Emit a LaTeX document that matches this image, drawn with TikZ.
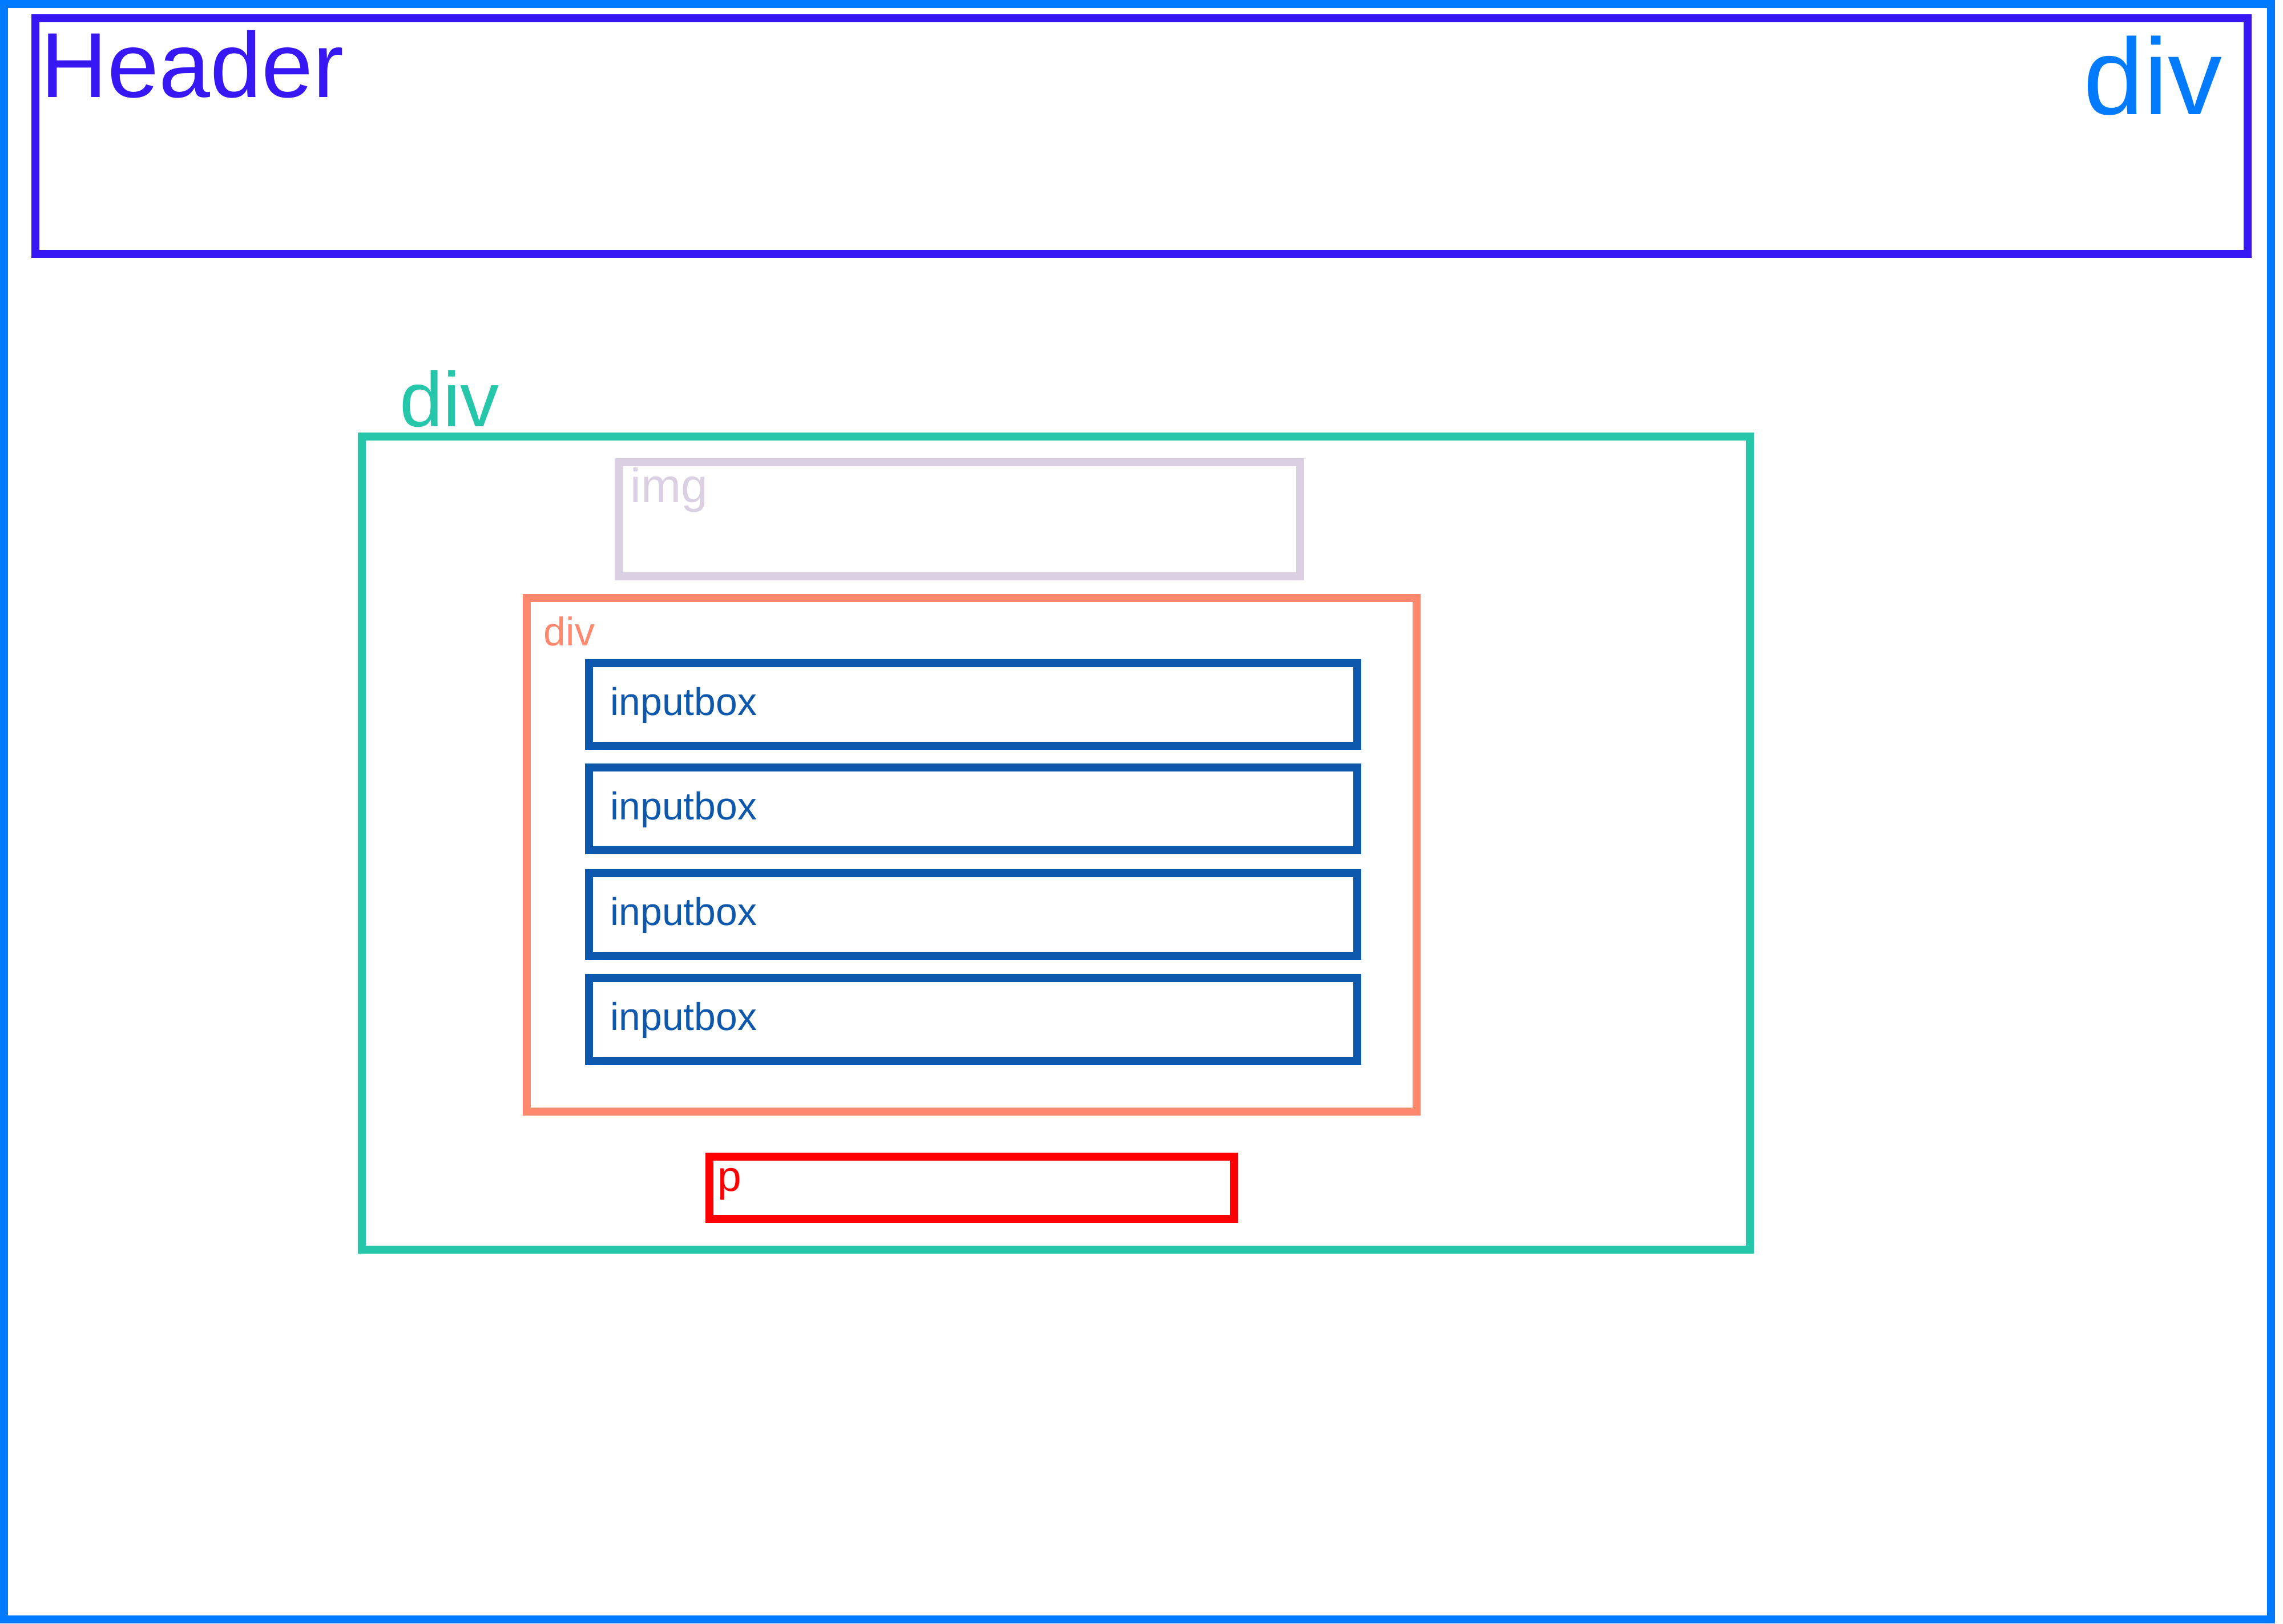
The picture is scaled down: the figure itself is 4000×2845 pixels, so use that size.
\documentclass[tikz,border=0pt]{standalone}
\usepackage{fontspec}
\setmainfont{Liberation Sans}
\definecolor{pageblue}{RGB}{0, 123, 255}
\definecolor{headindigo}{RGB}{55, 24, 245}
\definecolor{wrapgreen}{RGB}{38, 198, 170}
\definecolor{imglilac}{RGB}{219, 207, 227}
\definecolor{formcoral}{RGB}{255, 136, 110}
\definecolor{inputnavy}{RGB}{13, 87, 172}
\definecolor{msgred}{RGB}{255, 0, 0}
\usetikzlibrary{positioning}

\tikzset{
  boxline/.style={line width=3.98pt},
  tag/.style={anchor=base west, inner sep=0pt},
  tagright/.style={anchor=base east, inner sep=0pt}
}

\begin{document}
\begin{tikzpicture}[x=0.01cm, y=-0.01cm]
  \useasboundingbox (0, 0) rectangle (4000, 2845);

  % page and header
  \draw[boxline, pageblue] (7, 7) rectangle (3979, 2838);
  \draw[boxline, headindigo] (62, 32) rectangle (3938, 445);
  \node[tag, headindigo, font=\fontsize{46}{50}\selectfont] (header) at (71, 170) {Header};
  \node[tagright, pageblue, font=\fontsize{54}{58}\selectfont] (pagediv) at (3894, 200) {div};

  % main div
  \draw[boxline, wrapgreen] (634, 765) rectangle (3066, 2190);
  \node[tag, wrapgreen, font=\fontsize{38.7}{42}\selectfont] (maindiv) at (700, 747) {div};

  % image
  \draw[boxline, imglilac] (1084, 810) rectangle (2278, 1010);
  \node[tag, imglilac, font=\fontsize{23.9}{26}\selectfont] (img) at (1104, 880) {img};

  % form div with inputs
  \draw[boxline, formcoral] (923, 1048) rectangle (2482, 1948);
  \node[tag, formcoral, font=\fontsize{19.9}{22}\selectfont] (formdiv) at (952, 1131) {div};

  \foreach \i/\top in {1/1162, 2/1345, 3/1530, 4/1714} {
    \draw[boxline, inputnavy] (1032, \top) rectangle (2378, \top+145);
    \node[tag, inputnavy, font=\fontsize{19.3}{21}\selectfont] (input\i) at (1069, \top+91) {inputbox};
  }

  % paragraph
  \draw[boxline, msgred] (1243, 2027) rectangle (2162, 2136);
  \node[tag, msgred, font=\fontsize{21.3}{23}\selectfont] (para) at (1257, 2087) {p};
\end{tikzpicture}
\end{document}
